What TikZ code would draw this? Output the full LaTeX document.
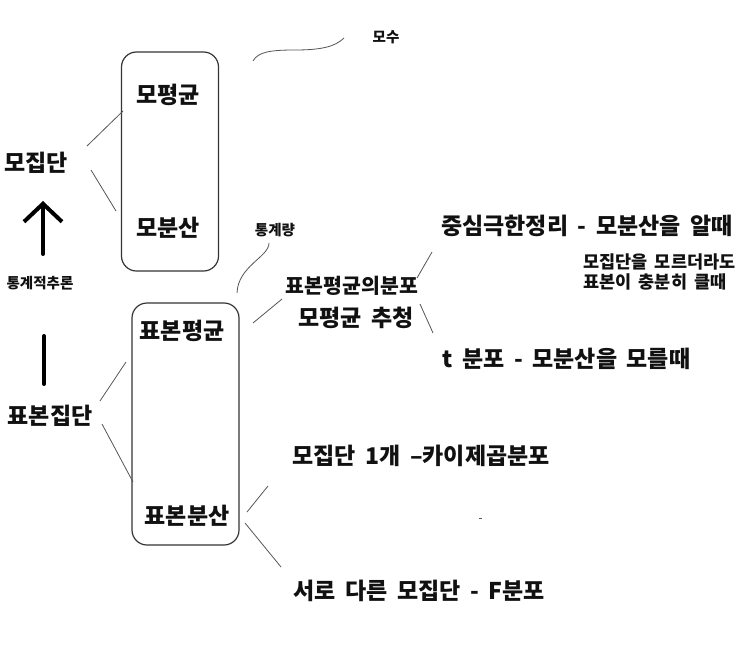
\documentclass[tikz,border=0pt]{standalone}
\usepackage{fontspec}
\setmainfont{Noto Sans CJK KR}
\usetikzlibrary{arrows.meta}
\definecolor{skInk}{HTML}{111111}
\definecolor{skLine}{HTML}{555555}
\newcommand\skWide[1]{\spaceskip=#1em\relax}

\begin{document}
\begin{tikzpicture}[x=1pt, y=-1pt,
  bigtxt/.style={font=\fontsize{23}{25}\selectfont\bfseries\skWide{0.42}, text=skInk, inner sep=0pt},
  midtxt/.style={font=\fontsize{20.5}{22}\selectfont\bfseries, text=skInk, inner sep=0pt},
  smalltxt/.style={font=\fontsize{17.5}{19}\selectfont\bfseries\skWide{0.42}, text=skInk, inner sep=0pt},
  tinytxt/.style={font=\fontsize{14.5}{16}\selectfont\bfseries, text=skInk, inner sep=0pt},
  grp/.style={draw=skInk!85, line width=1.2pt, rounded corners=15pt},
  stroke/.style={draw=skLine, line width=0.8pt},
  bold/.style={line width=4pt, line cap=round}]
  \useasboundingbox[fill=white] (0,0) rectangle (743,653);

  % population side
  \node[grp, minimum width=97pt, minimum height=219pt] (pbox) at (170,161.5) {};
  \node[bigtxt] (pmean) at (168,95) {모평균};
  \node[bigtxt] (pvar) at (168,228) {모분산};
  \node[bigtxt] (pop) at (36,163) {모집단};
  \node[tinytxt] (param) at (386,37) {모수};

  % sample side
  \node[grp, minimum width=107pt, minimum height=242pt] (sbox) at (185.5,424) {};
  \node[bigtxt] (smean) at (182,331) {표본평균};
  \node[bigtxt] (svar) at (187,516) {표본분산};
  \node[bigtxt] (samp) at (50,416) {표본집단};
  \node[tinytxt] (stat) at (275,230) {통계량};
  \node[tinytxt] (infer) at (40,283) {통계적추론};

  % sample mean branch
  \node[midtxt] (dist) at (352,286) {표본평균의분포};
  \node[bigtxt] (est) at (356,318) {모평균 추청};
  \node[bigtxt, anchor=west] (clt) at (441,226) {중심극한정리 - 모분산을 알때};
  \node[smalltxt, anchor=west, align=left] (cltnote) at (583,272) {모집단을 모르더라도\\[1pt]표본이 충분히 클때};
  \node[bigtxt, anchor=west] (tdist) at (442,359) {t 분포 - 모분산을 모를때};

  % sample variance branch
  \node[bigtxt, anchor=west] (chi) at (292,456) {모집단 1개 –카이제곱분포};
  \node[bigtxt, anchor=west] (fdist) at (293,591) {서로 다른 모집단 - F분포};

  % free ends of the strokes
  \coordinate (popA) at (87,146);   \coordinate (pmeanA) at (123,111);
  \coordinate (popB) at (91,170);   \coordinate (pvarA) at (116,211);
  \coordinate (sampA) at (100,401); \coordinate (smeanA) at (126,362);
  \coordinate (sampB) at (102,424); \coordinate (svarA) at (133,482);
  \coordinate (smeanB) at (253,323); \coordinate (distA) at (282,299);
  \coordinate (distB) at (417,278); \coordinate (cltA) at (432,252);
  \coordinate (estA) at (420,304);  \coordinate (tdistA) at (433,333);
  \coordinate (svarB) at (247,512); \coordinate (chiA) at (268,486);
  \coordinate (svarC) at (245,523); \coordinate (fdistA) at (281,567);
  \coordinate (upTail) at (43,254); \coordinate (upTip) at (43,201);
  \coordinate (barTop) at (44,336); \coordinate (barBot) at (44,384);

  \draw[stroke] (popA) -- (pmeanA);
  \draw[stroke] (popB) -- (pvarA);
  \draw[stroke] (sampA) -- (smeanA);
  \draw[stroke] (sampB) -- (svarA);
  \draw[stroke] (smeanB) -- (distA);
  \draw[stroke] (distB) -- (cltA);
  \draw[stroke] (estA) -- (tdistA);
  \draw[stroke] (svarB) -- (chiA);
  \draw[stroke] (svarC) -- (fdistA);
  \draw[stroke] (253,61) .. controls (258,52) and (270,50) .. (295,50)
    .. controls (320,50) and (335,47) .. (344,38);
  \draw[stroke] (269,243) .. controls (269,257) and (238,266) .. (237,293);
  \draw[stroke] (479,518) -- (482,518);

  % inference arrow
  \draw[bold, -{Straight Barb[length=18pt, width=38pt, line width=4pt]}] (upTail) -- (upTip);
  \draw[bold] (barTop) -- (barBot);
\end{tikzpicture}
\end{document}
